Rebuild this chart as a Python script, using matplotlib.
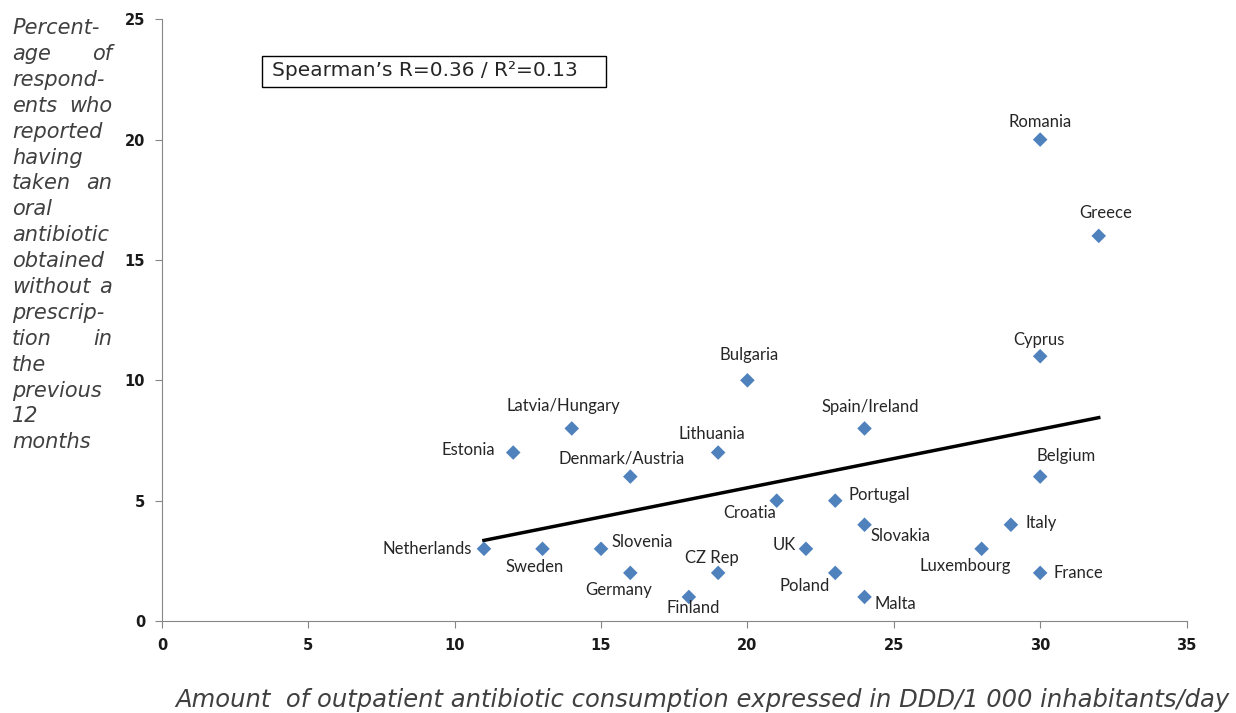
import numpy as np
import matplotlib.pyplot as plt

plt.rcParams["font.family"] = ["DejaVu Sans"]

# Data
countries = ["Netherlands", "Estonia", "Sweden", "Latvia/Hungary", "Slovenia",
             "Denmark/Austria", "Germany", "Finland", "Lithuania", "CZ Rep",
             "Bulgaria", "Croatia", "UK", "Portugal", "Poland", "Spain/Ireland",
             "Slovakia", "Malta", "Luxembourg", "Italy", "Romania", "Cyprus",
             "Belgium", "France", "Greece"]
consumption = [11, 12, 13, 14, 15, 16, 16, 18, 19, 19, 20, 21, 22, 23, 23, 24,
               24, 24, 28, 29, 30, 30, 30, 30, 32]
no_prescription = [3, 7, 3, 8, 3, 6, 2, 1, 7, 2, 10, 5, 3, 5, 2, 8, 4, 1, 3, 4,
                   20, 11, 6, 2, 16]
trend_x = [11, 32]
trend_y = [3.35, 8.45]

# label placement (offset in px, horizontal alignment)
label_pos = {
    "Netherlands": (-12, 0, "right"), "Estonia": (-18, 3, "right"),
    "Sweden": (-8, -18, "center"), "Latvia/Hungary": (-8, 22, "center"),
    "Slovenia": (10, 7, "left"), "Denmark/Austria": (-9, 18, "center"),
    "Germany": (-12, -17, "center"), "Finland": (4, -11, "center"),
    "Lithuania": (-6, 19, "center"), "CZ Rep": (-6, 15, "center"),
    "Bulgaria": (2, 25, "center"), "Croatia": (-27, -12, "center"),
    "UK": (-10, 4, "right"), "Portugal": (13, 6, "left"),
    "Poland": (-31, -13, "center"), "Spain/Ireland": (6, 21, "center"),
    "Slovakia": (6, -11, "left"), "Malta": (10, -7, "left"),
    "Luxembourg": (-16, -17, "center"), "Italy": (15, 2, "left"),
    "Romania": (0, 18, "center"), "Cyprus": (-1, 16, "center"),
    "Belgium": (26, 21, "center"), "France": (13, 0, "left"),
    "Greece": (7, 23, "center"),
}

ylabel_lines = ["Percent-", "age of", "respond-", "ents who", "reported",
                "having", "taken an", "oral", "antibiotic", "obtained",
                "without a", "prescrip-", "tion in", "the", "previous", "12",
                "months"]

W, H = 1236, 713
fig = plt.figure(figsize=(W / 100, H / 100), dpi=100)
ax = fig.add_axes([0.131, 0.129, 0.829, 0.844])

ax.plot(trend_x, trend_y, color="black", lw=2.5, zorder=2)
ax.scatter(consumption, no_prescription, marker="D", s=55, color="#4F81BD",
           edgecolors="none", zorder=3)

for name, x, y in zip(countries, consumption, no_prescription):
    dx, dy, ha = label_pos[name]
    ax.annotate(name, (x, y), xytext=(dx * 0.72, dy * 0.72),
                textcoords="offset points", ha=ha, va="center",
                fontsize=12, family="Lato", color="#262626")

ax.set_xlim(0, 35)
ax.set_ylim(0, 25)
ax.set_xticks(np.arange(0, 36, 5))
ax.set_yticks(np.arange(0, 26, 5))
for s in ["top", "right"]:
    ax.spines[s].set_visible(False)
for s in ["left", "bottom"]:
    ax.spines[s].set_color("#868686")
ax.tick_params(colors="#868686", labelcolor="#1a1a1a", labelsize=10.5, length=5)
ax.tick_params(axis="y", pad=7)
ax.tick_params(axis="x", pad=7)
for lab in ax.get_xticklabels() + ax.get_yticklabels():
    lab.set_fontweight("bold")

# Spearman box
box = plt.Rectangle((262 / W, 1 - 87 / H), 344 / W, 31 / H,
                    transform=fig.transFigure, fill=False, ec="black", lw=1)
fig.add_artist(box)
fig.text(272 / W, 1 - 71 / H, "Spearman\u2019s R=0.36 / R\u00b2=0.13",
         fontsize=14.5, color="#262626", va="center", ha="left")

# justified y-label block
for i, line in enumerate(ylabel_lines):
    yy = 1 - (28 + i * 25.9) / H
    words = line.split()
    fig.text(12 / W, yy, words[0], ha="left", va="center",
             style="italic", fontsize=15, color="#404040")
    if len(words) > 1:
        fig.text(112 / W, yy, words[-1], ha="right", va="center",
                 style="italic", fontsize=15, color="#404040")

fig.text(702 / W, 1 - 700 / H,
         "Amount  of outpatient antibiotic consumption expressed in DDD/1 000 inhabitants/day",
         ha="center", va="center", style="italic", fontsize=17.5, color="#404040")

fig.savefig("out.png", dpi=100)
